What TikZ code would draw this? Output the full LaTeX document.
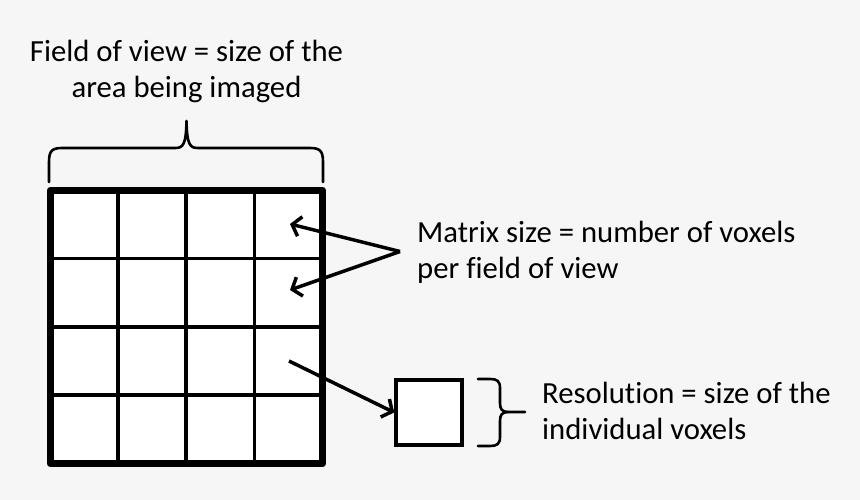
\documentclass[tikz,border=0pt]{standalone}
\usepackage{fontspec}
\setmainfont[Ligatures=NoCommon]{Carlito}
\usetikzlibrary{arrows.meta}
\definecolor{bg}{HTML}{F6F6F6}
\tikzset{
  lbl/.style={inner sep=0pt, font=\fontsize{30.7}{36}\selectfont},
  gridline/.style={line width=3.5pt},
  ptr/.style={line width=3.5pt, -{Straight Barb[length=8pt,width=20pt,line width=3.5pt]}},
  bracepath/.style={line width=2.6pt, line cap=round, line join=round},
}
\begin{document}
\begin{tikzpicture}[x=1pt, y=-1pt]
\fill[bg] (0,0) rectangle (860,500);
\useasboundingbox (0,0) rectangle (860,500);
% grid
\node[draw=none, fill=white, minimum width=272pt, minimum height=273pt, inner sep=0pt] (grid) at (186.5,327) {};
\draw[gridline] (118,190.5) -- (118,463.5);
\draw[gridline] (186,190.5) -- (186,463.5);
\draw[gridline] (254.5,190.5) -- (254.5,463.5);
\draw[gridline] (50.5,258.5) -- (322.5,258.5);
\draw[gridline] (50.5,327) -- (322.5,327);
\draw[gridline] (50.5,395) -- (322.5,395);
\draw[line width=7pt, line join=round] (grid.north west) rectangle (grid.south east);
\coordinate (c14) at (290,224);
\coordinate (c24) at (290,290);
\coordinate (c34) at (289,361);
% top brace
\draw[bracepath] (49,182) -- (49,162) .. controls (49,151) and (52,148) .. (62,148) -- (175,148)
  .. controls (183,148) and (186,145) .. (186.5,121)
  .. controls (187,145) and (190,148) .. (198,148) -- (310,148)
  .. controls (320,148) and (323,151) .. (323,162) -- (323,182);
% title
\node[lbl, align=center, anchor=base] (title) at (186.5,98) {Field of view = size of the\\area being imaged};
% matrix label
\coordinate (apex) at (400,251.5);
\draw[ptr] (apex) -- (c14);
\draw[ptr] (apex) -- (c24);
\node[lbl, align=left, anchor=base west] (mtx) at (417,278) {Matrix size = number of voxels\\per field of view};
% voxel
\node[draw, line width=3.5pt, fill=white, minimum width=66pt, minimum height=65pt, inner sep=0pt] (vox) at (429,412.5) {};
\draw[ptr] (c34) -- (vox.west);
% right brace
\draw[bracepath] (478,379) -- (490,379) .. controls (497,379) and (500,381) .. (500,388) -- (500,403)
  .. controls (500,409) and (502,412) .. (508,412) -- (525,412);
\draw[bracepath] (478,446) -- (490,446) .. controls (497,446) and (500,444) .. (500,437) -- (500,421)
  .. controls (500,415) and (502,412) .. (508,412);
\node[lbl, align=left, anchor=base west] (res) at (542,439) {Resolution = size of the\\individual voxels};
\end{tikzpicture}
\end{document}
